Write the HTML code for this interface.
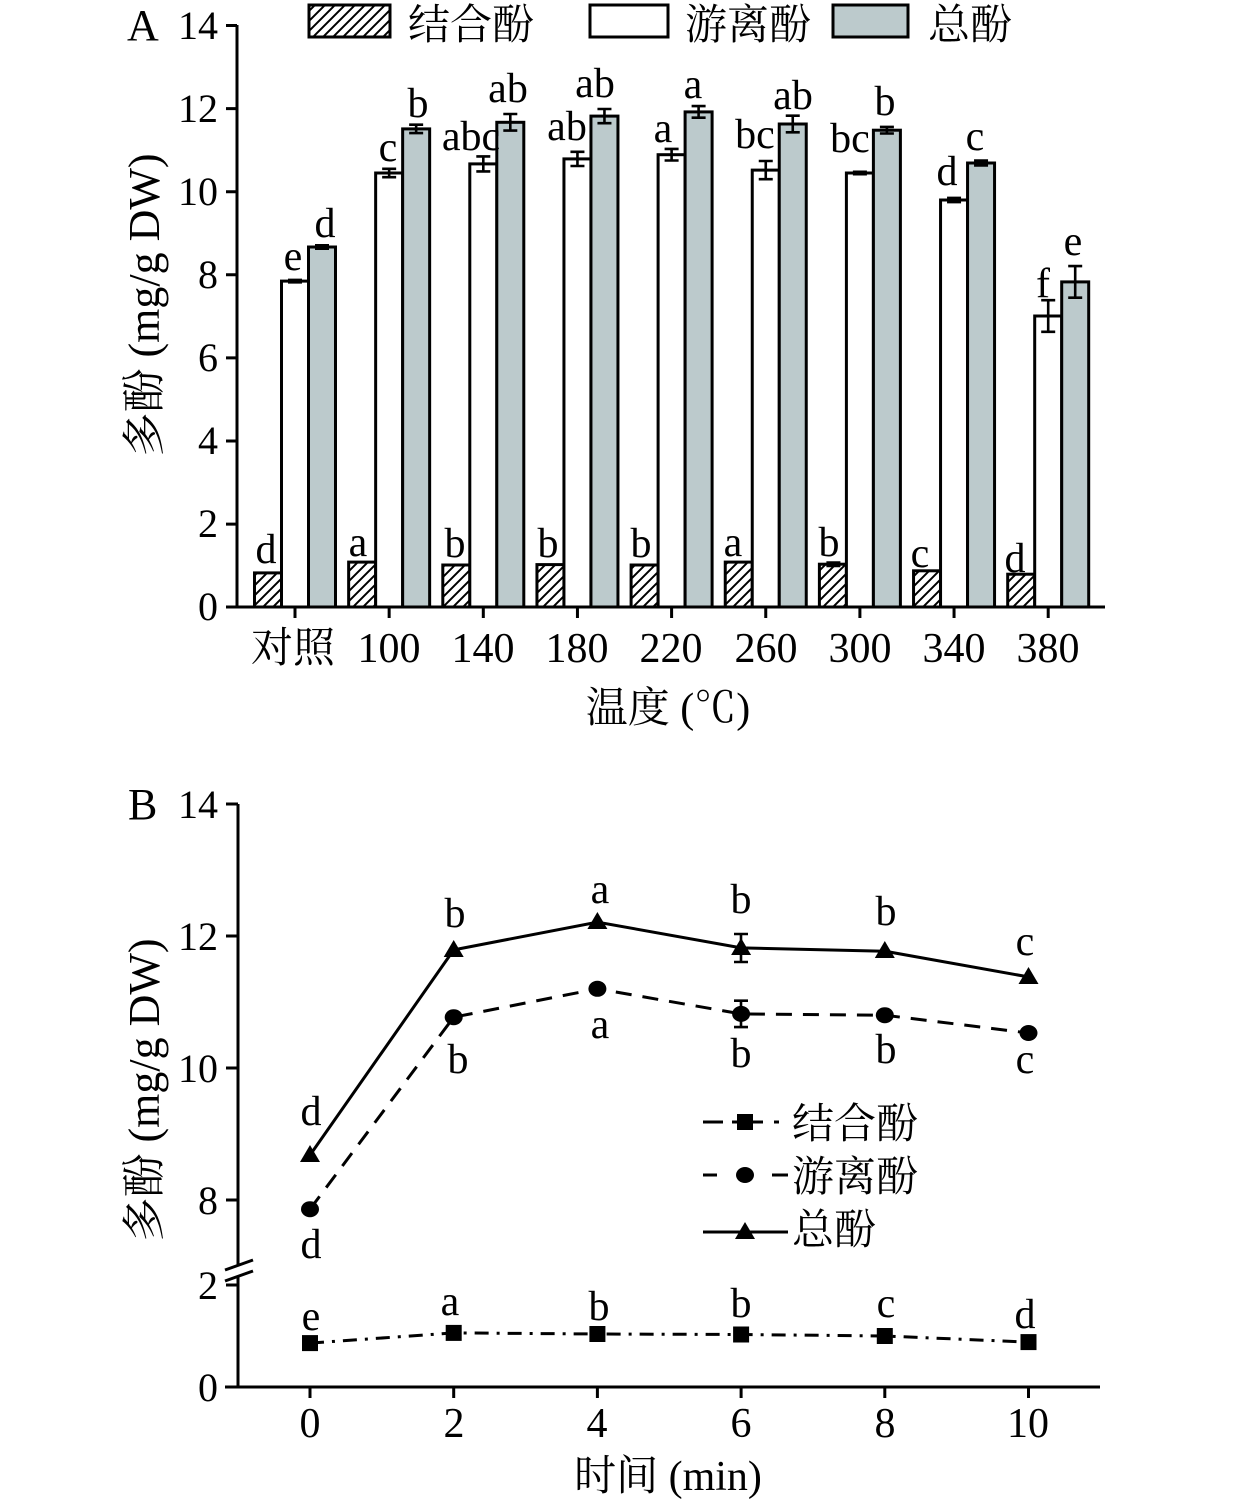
<!DOCTYPE html>
<html><head><meta charset="utf-8"><style>
html,body{margin:0;padding:0;background:#fff;}
svg{display:block;}
text{font-family:"Liberation Serif","Noto Serif CJK SC",serif;fill:#000;}
</style></head><body>
<svg width="1260" height="1504" viewBox="0 0 1260 1504" xmlns="http://www.w3.org/2000/svg">
<defs>
<pattern id="h" patternUnits="userSpaceOnUse" width="10" height="10">
<path d="M0,10 L10,0 M-5,5 L5,-5 M5,15 L15,5" stroke="#000" stroke-width="2"/>
</pattern>
</defs>
<rect width="1260" height="1504" fill="#fff"/>

<!-- ===== Panel A ===== -->
<text x="127" y="40" font-size="44">A</text>
<!-- legend -->
<rect x="309" y="5" width="81" height="32" fill="url(#h)" stroke="#000" stroke-width="3"/>
<text x="408" y="39" font-size="42">结合酚</text>
<rect x="590" y="5" width="78" height="32" fill="#fff" stroke="#000" stroke-width="3"/>
<text x="685" y="39" font-size="42">游离酚</text>
<rect x="833" y="5" width="75" height="32" fill="#bccacc" stroke="#000" stroke-width="3"/>
<text x="928" y="39" font-size="42">总酚</text>

<!-- bars -->
<g stroke="#000" stroke-width="3">
<rect x="254.5" y="572.9" width="27" height="34.1" fill="url(#h)"/>
<rect x="281.5" y="281.1" width="27" height="325.9" fill="#fff"/>
<rect x="308.5" y="247.0" width="27" height="360" fill="#bccacc"/>

<rect x="348.65" y="562.1" width="27" height="44.9" fill="url(#h)"/>
<rect x="375.65" y="173" width="27" height="434" fill="#fff"/>
<rect x="402.65" y="128.9" width="27" height="478.1" fill="#bccacc"/>

<rect x="442.8" y="565" width="27" height="42" fill="url(#h)"/>
<rect x="469.8" y="163.9" width="27" height="443.1" fill="#fff"/>
<rect x="496.8" y="122.3" width="27" height="484.7" fill="#bccacc"/>

<rect x="536.95" y="564.6" width="27" height="42.4" fill="url(#h)"/>
<rect x="563.95" y="158.9" width="27" height="448.1" fill="#fff"/>
<rect x="590.95" y="116.1" width="27" height="490.9" fill="#bccacc"/>

<rect x="631.1" y="565" width="27" height="42" fill="url(#h)"/>
<rect x="658.1" y="154.7" width="27" height="452.3" fill="#fff"/>
<rect x="685.1" y="111.9" width="27" height="495.1" fill="#bccacc"/>

<rect x="725.25" y="562.1" width="27" height="44.9" fill="url(#h)"/>
<rect x="752.25" y="170.1" width="27" height="436.9" fill="#fff"/>
<rect x="779.25" y="124" width="27" height="483" fill="#bccacc"/>

<rect x="819.4" y="564.2" width="27" height="42.8" fill="url(#h)"/>
<rect x="846.4" y="173" width="27" height="434" fill="#fff"/>
<rect x="873.4" y="130.2" width="27" height="476.8" fill="#bccacc"/>

<rect x="913.55" y="570.8" width="27" height="36.2" fill="url(#h)"/>
<rect x="940.55" y="200" width="27" height="407" fill="#fff"/>
<rect x="967.55" y="163" width="27" height="444" fill="#bccacc"/>

<rect x="1007.7" y="574.2" width="27" height="32.8" fill="url(#h)"/>
<rect x="1034.7" y="316" width="27" height="291" fill="#fff"/>
<rect x="1061.7" y="281.9" width="27" height="325.1" fill="#bccacc"/>
</g>

<!-- error bars A -->
<g stroke="#000" stroke-width="2.6" fill="none">
<path d="M288,279.9H302M295,279.9V282.3M288,282.3H302"/>
<path d="M382.15,168.8H396.15M389.15,168.8V177.2M382.15,177.2H396.15"/>
<path d="M476.3,156.4H490.3M483.3,156.4V171.4M476.3,171.4H490.3"/>
<path d="M570.45,151.8H584.45M577.45,151.8V166M570.45,166H584.45"/>
<path d="M664.6,148.9H678.6M671.6,148.9V160.5M664.6,160.5H678.6"/>
<path d="M758.75,161H772.75M765.75,161V179.2M758.75,179.2H772.75"/>
<path d="M852.9,171.8H866.9M859.9,171.8V174.2M852.9,174.2H866.9"/>
<path d="M947.05,197.9H961.05M954.05,197.9V202.1M947.05,202.1H961.05"/>
<path d="M1041.2,300.2H1055.2M1048.2,300.2V331.8M1041.2,331.8H1055.2"/>

<path d="M315,245.3H329M322,245.3V248.7M315,248.7H329"/>
<path d="M409.15,124.7H423.15M416.15,124.7V133.1M409.15,133.1H423.15"/>
<path d="M503.3,114H517.3M510.3,114V130.6M503.3,130.6H517.3"/>
<path d="M597.45,109H611.45M604.45,109V123.2M597.45,123.2H611.45"/>
<path d="M691.6,106.1H705.6M698.6,106.1V117.7M691.6,117.7H705.6"/>
<path d="M785.75,115.7H799.75M792.75,115.7V132.3M785.75,132.3H799.75"/>
<path d="M879.9,126.9H893.9M886.9,126.9V133.5M879.9,133.5H893.9"/>
<path d="M974.05,160.5H988.05M981.05,160.5V165.5M974.05,165.5H988.05"/>
<path d="M1068.2,266.1H1082.2M1075.2,266.1V297.7M1068.2,297.7H1082.2"/>

<path d="M826.4,562.5H840.4M833.4,562.5V565.9M826.4,565.9H840.4"/>
</g>

<!-- axes A -->
<g stroke="#000" stroke-width="3" fill="none">
<path d="M237,25V608.5"/>
<path d="M235.5,607H1105"/>
<path d="M226,25.5H237M226,108.6H237M226,191.7H237M226,274.8H237M226,357.9H237M226,441H237M226,524.1H237M226,607H237"/>
<path d="M295,607V618M389.15,607V618M483.3,607V618M577.45,607V618M671.6,607V618M765.75,607V618M859.9,607V618M954.05,607V618M1048.2,607V618"/>
</g>
<g font-size="40" text-anchor="end">
<text x="218" y="39">14</text>
<text x="218" y="122">12</text>
<text x="218" y="205">10</text>
<text x="218" y="288">8</text>
<text x="218" y="371">6</text>
<text x="218" y="454">4</text>
<text x="218" y="537">2</text>
<text x="218" y="620">0</text>
</g>
<g font-size="42" text-anchor="middle">
<text x="293" y="662">对照</text>
<text x="389" y="662">100</text>
<text x="483" y="662">140</text>
<text x="577" y="662">180</text>
<text x="671" y="662">220</text>
<text x="766" y="662">260</text>
<text x="860" y="662">300</text>
<text x="954" y="662">340</text>
<text x="1048" y="662">380</text>
<text x="668" y="722">温度 (℃)</text>
</g>
<text transform="translate(159,305) rotate(-90)" font-size="44" text-anchor="middle">多酚 (mg/g DW)</text>

<!-- annotations A -->
<g font-size="42" text-anchor="middle">
<text x="266" y="563">d</text><text x="293" y="270">e</text><text x="325" y="237">d</text>
<text x="358" y="556">a</text><text x="388" y="161">c</text><text x="418" y="117">b</text>
<text x="455" y="557">b</text><text x="471" y="150">abc</text><text x="508" y="102">ab</text>
<text x="548" y="557">b</text><text x="567" y="140">ab</text><text x="595" y="97">ab</text>
<text x="641" y="557">b</text><text x="663" y="142">a</text><text x="693" y="98">a</text>
<text x="733" y="556">a</text><text x="755" y="148">bc</text><text x="793" y="109">ab</text>
<text x="829" y="556">b</text><text x="850" y="152">bc</text><text x="885" y="115">b</text>
<text x="920" y="567">c</text><text x="947" y="185">d</text><text x="975" y="150">c</text>
<text x="1015" y="572">d</text><text x="1043" y="297">f</text><text x="1073" y="255">e</text>
</g>

<!-- ===== Panel B ===== -->
<text x="128" y="819" font-size="44">B</text>
<g stroke="#000" stroke-width="3" fill="none">
<path d="M238,804V1265"/>
<path d="M238,1276V1388.5"/>
<path d="M225,1270L253,1260M225,1281L253,1271"/>
<path d="M225,1387H1100"/>
<path d="M226,804H238M226,936H238M226,1068H238M226,1200H238M226,1285H238"/>
<path d="M310,1387V1398M453.7,1387V1398M597.4,1387V1398M741.1,1387V1398M884.8,1387V1398M1028.5,1387V1398"/>
</g>
<g font-size="40" text-anchor="end">
<text x="218" y="818">14</text>
<text x="218" y="950">12</text>
<text x="218" y="1082">10</text>
<text x="218" y="1214">8</text>
<text x="218" y="1299">2</text>
<text x="218" y="1401">0</text>
</g>
<g font-size="42" text-anchor="middle">
<text x="310" y="1437">0</text>
<text x="454" y="1437">2</text>
<text x="597" y="1437">4</text>
<text x="741" y="1437">6</text>
<text x="885" y="1437">8</text>
<text x="1028" y="1437">10</text>
<text x="668" y="1490">时间 (min)</text>
</g>
<text transform="translate(159,1090) rotate(-90)" font-size="44" text-anchor="middle">多酚 (mg/g DW)</text>

<!-- series B -->
<g fill="none" stroke="#000" stroke-width="3">
<polyline points="310,1155.1 453.7,949.9 597.4,922.1 741.1,947.9 884.8,951.2 1028.5,976.9"/>
<polyline points="310,1209.2 453.7,1017.2 597.4,988.8 741.1,1013.9 884.8,1015.2 1028.5,1033" stroke-dasharray="16 11"/>
<polyline points="310,1343.1 453.7,1332.9 597.4,1334 741.1,1334.5 884.8,1336 1028.5,1342.1" stroke-dasharray="14 8 3 8"/>
<path d="M734,934H748M741,934V962M734,962H748" stroke-width="2.6"/>
<path d="M734,1000.7H748M741,1000.7V1027.1M734,1027.1H748" stroke-width="2.6"/>
</g>
<g fill="#000">
<polygon points="300,1162 320,1162 310,1145"/>
<polygon points="443.7,957 463.7,957 453.7,940"/>
<polygon points="587.4,929 607.4,929 597.4,912"/>
<polygon points="731.1,955 751.1,955 741.1,938"/>
<polygon points="874.8,958 894.8,958 884.8,941"/>
<polygon points="1018.5,984 1038.5,984 1028.5,967"/>
<ellipse cx="310" cy="1209.2" rx="9" ry="8"/>
<ellipse cx="453.7" cy="1017.2" rx="9" ry="8"/>
<ellipse cx="597.4" cy="988.8" rx="9" ry="8"/>
<ellipse cx="741.1" cy="1013.9" rx="9" ry="8"/>
<ellipse cx="884.8" cy="1015.2" rx="9" ry="8"/>
<ellipse cx="1028.5" cy="1033" rx="9" ry="8"/>
<rect x="302" y="1335.1" width="16" height="16"/>
<rect x="445.7" y="1324.9" width="16" height="16"/>
<rect x="589.4" y="1326" width="16" height="16"/>
<rect x="733.1" y="1326.5" width="16" height="16"/>
<rect x="876.8" y="1328" width="16" height="16"/>
<rect x="1020.5" y="1334.1" width="16" height="16"/>
</g>

<!-- annotations B -->
<g font-size="42" text-anchor="middle">
<text x="311" y="1125">d</text><text x="455" y="927">b</text><text x="600" y="903">a</text>
<text x="741" y="913">b</text><text x="886" y="925">b</text><text x="1025" y="955">c</text>
<text x="311" y="1258">d</text><text x="458" y="1073">b</text><text x="600" y="1038">a</text>
<text x="741" y="1067">b</text><text x="886" y="1063">b</text><text x="1025" y="1073">c</text>
<text x="311" y="1330">e</text><text x="450" y="1315">a</text><text x="599" y="1320">b</text>
<text x="741" y="1317">b</text><text x="886" y="1317">c</text><text x="1025" y="1328">d</text>
</g>

<!-- legend B -->
<g stroke="#000" stroke-width="3" fill="none">
<path d="M703,1122H723M732,1122H763M774,1122H779"/>
<path d="M703,1175H717M772,1175H788"/>
<path d="M703,1232H788"/>
</g>
<g fill="#000">
<rect x="737" y="1114" width="16" height="16"/>
<ellipse cx="745" cy="1175" rx="9" ry="8"/>
<polygon points="735,1239 755,1239 745,1222"/>
</g>
<g font-size="42">
<text x="792" y="1138">结合酚</text>
<text x="792" y="1191">游离酚</text>
<text x="792" y="1244">总酚</text>
</g>
</svg>
</body></html>
